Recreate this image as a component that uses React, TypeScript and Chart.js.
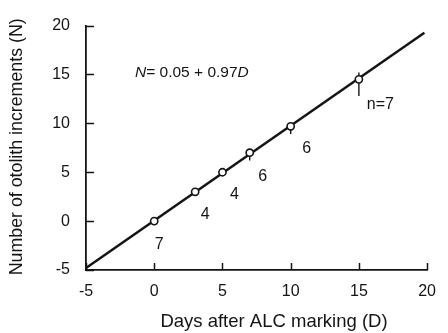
import React, { useEffect, useRef } from "react";
import { Chart, registerables } from "chart.js";

Chart.register(...registerables);

// ---- data ----
const days = [0, 3, 5, 7, 10, 15];
const increments = [0, 3, 5, 7, 9.7, 14.5];
const errLow = [0, 3, 5, 6.2, 8.9, 12.8];
const errHigh = [0, 3, 5, 7.2, 10.0, 15.2];
const sampleLabels = ["7", "4", "4", "6", "6", "n=7"];
const fitX = [-5, 19.8];
const fitY = [-4.8, 19.26];
const xTicks = [-5, 0, 5, 10, 15, 20];
const yTicks = [-5, 0, 5, 10, 15, 20];
const xTitle = "Days after ALC marking (D)";
const yTitle = "Number of otolith increments (N)";
const equationParts = [
  { text: "N", italic: true },
  { text: "= 0.05 + 0.97", italic: false },
  { text: "D", italic: true },
];

// ---- layout / style (not data) ----
const FONT = "'Liberation Sans', Arial, Helvetica, sans-serif";
const INK = "#141414";
const labelOffsets = [
  [5, 23],
  [10, 23],
  [12, 22],
  [13, 24],
  [16, 22.5],
  [21.5, 25],
];

const annotationPlugin = {
  id: "annotations",
  beforeDatasetsDraw(chart: any) {
    const { ctx, scales } = chart;
    const x = scales.x;
    const y = scales.y;
    ctx.save();
    ctx.strokeStyle = INK;
    ctx.lineWidth = 1.4;
    days.forEach((d, i) => {
      if (errHigh[i] === errLow[i]) return;
      const px = x.getPixelForValue(d);
      ctx.beginPath();
      ctx.moveTo(px, y.getPixelForValue(errLow[i]));
      ctx.lineTo(px, y.getPixelForValue(errHigh[i]));
      ctx.stroke();
    });
    ctx.restore();
  },
  afterDraw(chart: any) {
    const { ctx, scales, chartArea } = chart;
    const x = scales.x;
    const y = scales.y;
    ctx.save();
    // inward tick marks
    ctx.strokeStyle = INK;
    ctx.lineWidth = 1.5;
    xTicks.forEach((v) => {
      const px = Math.round(x.getPixelForValue(v)) + 0.5;
      ctx.beginPath();
      ctx.moveTo(px, chartArea.bottom);
      ctx.lineTo(px, chartArea.bottom - 7);
      ctx.stroke();
    });
    yTicks.forEach((v) => {
      const py = Math.round(y.getPixelForValue(v)) + 0.5;
      ctx.beginPath();
      ctx.moveTo(chartArea.left, py);
      ctx.lineTo(chartArea.left + 8, py);
      ctx.stroke();
    });

    // sample size labels
    ctx.fillStyle = INK;
    ctx.font = `16px ${FONT}`;
    ctx.textAlign = "center";
    ctx.textBaseline = "middle";
    days.forEach((d, i) => {
      const px = x.getPixelForValue(d) + labelOffsets[i][0];
      const py = y.getPixelForValue(increments[i]) + labelOffsets[i][1];
      ctx.fillText(sampleLabels[i], px, py);
    });

    // equation
    let ex = chartArea.left + 49;
    const ey = chartArea.top + 47;
    ctx.textAlign = "left";
    equationParts.forEach((p) => {
      ctx.font = `${p.italic ? "italic " : ""}15.5px ${FONT}`;
      ctx.fillText(p.text, ex, ey);
      ex += ctx.measureText(p.text).width;
    });

    // axis titles
    ctx.font = `18.5px ${FONT}`;
    ctx.textAlign = "center";
    ctx.fillText(xTitle, 274, 322);
    ctx.font = `17.8px ${FONT}`;
    ctx.translate(17, (chartArea.top + chartArea.bottom) / 2 - 1);
    ctx.rotate(-Math.PI / 2);
    ctx.fillText(yTitle, 0, 0);
    ctx.restore();
  },
};

export default function App() {
  const canvasRef = useRef<HTMLCanvasElement | null>(null);

  useEffect(() => {
    document.body.style.margin = "0";
    const canvas = canvasRef.current;
    if (!canvas) return;

    const axisCommon = {
      type: "linear" as const,
      min: -5,
      max: 20,
      grid: { display: true, drawOnChartArea: false, drawTicks: false },
      border: { display: true, color: INK, width: 1.8 },
    };

    const chart = new Chart(canvas, {
      type: "scatter",
      data: {
        datasets: [
          {
            label: "Observed",
            data: days.map((d, i) => ({ x: d, y: increments[i] })),
            pointRadius: 3.6,
            pointBackgroundColor: "#ffffff",
            pointBorderColor: INK,
            pointBorderWidth: 1.6,
            showLine: false,
            order: 0,
          },
          {
            label: "Fit",
            data: fitX.map((v, i) => ({ x: v, y: fitY[i] })),
            showLine: true,
            borderColor: INK,
            borderWidth: 2.5,
            pointRadius: 0,
            order: 1,
          },
        ],
      },
      options: {
        responsive: false,
        animation: false,
        events: [],
        layout: { padding: { left: 0, top: 22, right: 8, bottom: 0 }, autoPadding: false },
        plugins: { legend: { display: false }, tooltip: { enabled: false } },
        scales: {
          x: {
            ...axisCommon,
            position: "bottom",
            afterFit: (s: any) => {
              s.height = 63;
            },
            ticks: {
              stepSize: 5,
              color: INK,
              font: { family: FONT, size: 16 },
              padding: 12,
              maxRotation: 0,
            },
          },
          y: {
            ...axisCommon,
            position: "left",
            afterFit: (s: any) => {
              s.width = 86;
            },
            ticks: {
              stepSize: 5,
              color: INK,
              font: { family: FONT, size: 16 },
              padding: 16,
            },
          },
        },
      },
      plugins: [annotationPlugin],
    } as any);

    return () => chart.destroy();
  }, []);

  return (
    <div style={{ width: 448, height: 333 }}>
      <canvas ref={canvasRef} width={448} height={333} style={{ display: "block" }} />
    </div>
  );
}
